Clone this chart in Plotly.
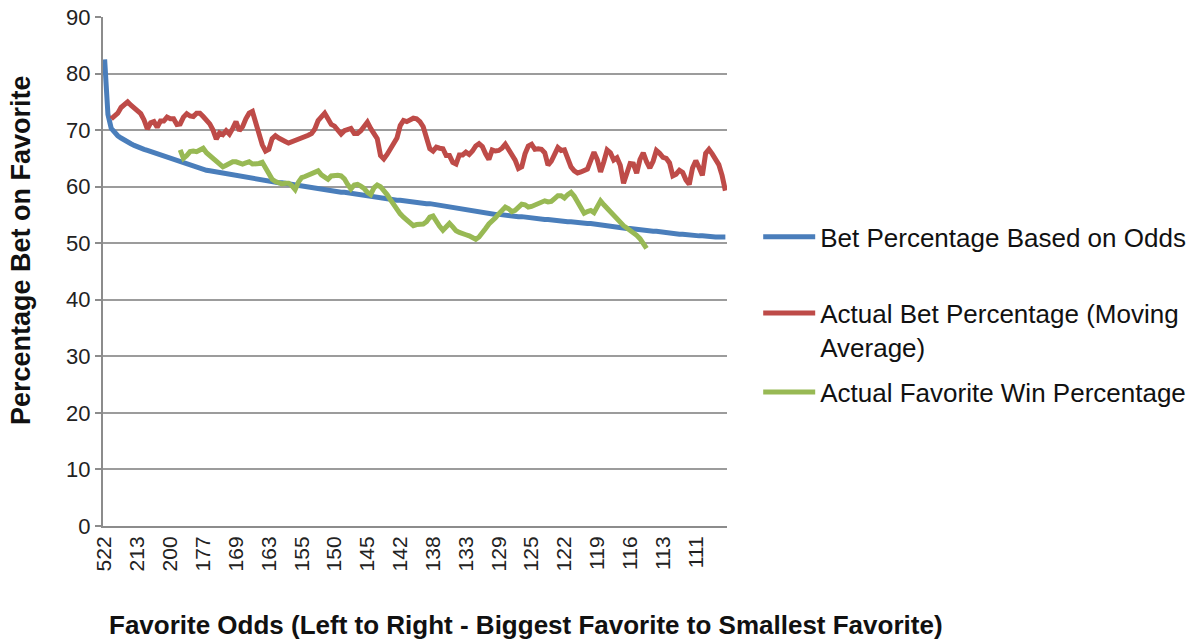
import plotly.graph_objects as go

N = 190
tick_labels = ["522", "213", "200", "177", "169", "163", "155", "150", "145", "142",
               "138", "133", "129", "125", "122", "119", "116", "113", "111"]
tick_step = 10
y_ticks = [0, 10, 20, 30, 40, 50, 60, 70, 80, 90]

blue_vals = [
    82.5, 72.8, 70.3, 69.5, 69.0, 68.6, 68.2, 67.9, 67.6, 67.3,
    67.0, 66.8, 66.6, 66.4, 66.2, 65.9, 65.8, 65.6, 65.5, 65.3,
    65.1, 64.9, 64.6, 64.4, 64.2, 64.0, 63.8, 63.5, 63.4, 63.2,
    63.1, 62.9, 62.8, 62.7, 62.6, 62.4, 62.3, 62.1, 62.0, 61.9,
    61.8, 61.7, 61.6, 61.5, 61.4, 61.4, 61.3, 61.2, 61.1, 61.0,
    60.9, 60.8, 60.8, 60.7, 60.7, 60.6, 60.5, 60.4, 60.3, 60.2,
    60.1, 60.0, 59.9, 59.8, 59.6, 59.5, 59.4, 59.3, 59.3, 59.2,
    59.2, 59.1, 59.0, 59.0, 58.9, 58.8, 58.7, 58.7, 58.6, 58.5,
    58.4, 58.3, 58.2, 58.1, 58.0, 57.9, 57.9, 57.8, 57.7, 57.6,
    57.6, 57.5, 57.4, 57.4, 57.3, 57.2, 57.2, 57.1, 57.0, 57.0,
    56.9, 56.8, 56.8, 56.7, 56.6, 56.5, 56.3, 56.2, 56.1, 55.9,
    55.8, 55.7, 55.6, 55.5, 55.5, 55.4, 55.3, 55.3, 55.2, 55.1,
    55.1, 55.0, 55.0, 54.9, 54.8, 54.8, 54.7, 54.7, 54.6, 54.5,
    54.5, 54.4, 54.4, 54.3, 54.2, 54.2, 54.1, 54.0, 54.0, 53.9,
    53.9, 53.8, 53.8, 53.7, 53.7, 53.6, 53.6, 53.5, 53.5, 53.4,
    53.3, 53.2, 53.1, 53.0, 52.9, 52.9, 52.8, 52.7, 52.7, 52.6,
    52.6, 52.5, 52.4, 52.4, 52.3, 52.2, 52.2, 52.1, 52.1, 52.0,
    52.0, 51.9, 51.8, 51.8, 51.7, 51.6, 51.6, 51.5, 51.5, 51.4,
    51.4, 51.3, 51.3, 51.2, 51.2, 51.2, 51.1, 51.1, 51.1, 51.1,
]

red_vals = [
    None, None, 72.0, 72.4, 73.0, 74.0, 74.6, 75.0, 74.4, 73.9,
    73.5, 72.9, 71.8, 70.2, 71.3, 71.5, 70.5, 71.6, 71.6, 72.3,
    72.0, 72.0, 71.0, 71.1, 72.3, 72.9, 72.5, 72.4, 73.0, 73.0,
    72.4, 71.8, 71.1, 70.0, 68.4, 69.5, 69.2, 69.9, 69.3, 70.3,
    71.5, 69.9, 70.6, 72.0, 73.0, 73.3, 71.2, 69.4, 67.4, 66.3,
    66.6, 68.5, 69.0, 68.6, 68.2, 68.0, 67.7, 67.9, 68.2, 68.3,
    68.5, 68.8, 69.1, 69.4, 70.2, 71.7, 72.4, 73.0, 72.0, 71.0,
    70.7, 69.8, 69.3, 69.9, 70.1, 70.3, 69.4, 69.4, 69.9, 70.7,
    71.4, 70.3, 69.5, 68.5, 65.5, 64.9, 65.7, 66.7, 67.6, 68.6,
    70.8, 71.7, 71.5, 71.9, 72.1, 72.0, 71.5, 70.6, 68.9, 66.7,
    66.3, 67.0, 66.8, 66.7, 65.5, 65.5, 64.3, 64.0, 65.6, 65.6,
    66.1, 65.7, 66.3, 67.2, 67.6, 67.1, 65.8, 64.8, 66.5, 66.3,
    66.4, 66.8, 67.5, 66.5, 65.5, 64.7, 63.2, 63.5, 65.8, 67.2,
    67.5, 66.6, 66.7, 66.6, 66.0, 63.8, 64.5, 65.7, 66.9, 66.4,
    66.5, 65.0, 63.5, 62.8, 62.4, 62.6, 62.9, 63.1, 64.6, 66.1,
    64.8, 62.6, 64.4, 66.5, 66.0, 64.7, 65.1, 63.8, 60.6, 62.1,
    64.1, 64.0, 62.4, 64.8, 66.0, 64.4, 63.3, 64.5, 66.4, 65.9,
    65.2, 65.0, 64.2, 61.9, 62.2, 62.9, 62.5, 61.2, 60.4, 63.3,
    64.6, 63.4, 62.0, 65.9, 66.6, 65.8, 64.8, 63.9, 62.0, 59.3,
]

green_vals = [None] * 23 + [
    66.5, 65.0, 65.5, 66.2, 66.3, 66.2, 66.5,
    66.8, 66.0, 65.5, 65.1, 64.6, 64.1, 63.5, 63.8, 64.1, 64.4,
    64.4, 64.2, 64.0, 64.2, 64.4, 64.0, 64.0, 64.1, 64.3, 63.2,
    62.1, 61.3, 60.9, 60.6, 60.5, 60.6, 60.6, 60.2, 59.5, 60.8,
    61.6, 61.8, 62.0, 62.2, 62.6, 62.8, 62.1, 61.6, 61.3, 61.9,
    62.0, 62.0, 61.9, 61.4, 60.4, 59.6, 60.3, 60.4, 60.1, 59.7,
    59.0, 58.6, 59.8, 60.3, 60.0, 59.4, 58.6, 57.7, 56.8, 55.9,
    55.2, 54.6, 54.0, 53.5, 53.1, 53.3, 53.3, 53.4, 53.8, 54.6,
    54.8, 53.7, 53.0, 52.3, 52.8, 53.5, 52.9, 52.2, 51.9, 51.6,
    51.5, 51.3, 51.0, 50.7, 51.1, 51.7, 52.6, 53.4, 53.9, 54.5,
    55.2, 55.8, 56.4, 56.1, 55.6, 55.8, 56.4, 56.9, 56.8, 56.4,
    56.5, 56.8, 57.0, 57.4, 57.5, 57.3, 57.4, 57.9, 58.4, 58.4,
    58.0, 58.6, 59.0, 58.3, 57.3, 56.2, 55.3, 55.6, 55.8, 55.4,
    56.6, 57.5, 56.8, 56.2, 55.6, 55.0, 54.2, 53.5, 53.1, 52.7,
    52.3, 51.9, 51.4, 50.8, 50.0, 49.1,
]
green_vals = green_vals + [None] * (N - len(green_vals))

series_names = ["Bet Percentage Based on Odds",
                "Actual Bet Percentage (Moving<br>Average)",
                "Actual Favorite Win Percentage"]
series_colors = ["#4A7EBB", "#BE4B48", "#98B954"]

x_idx = list(range(N))
FONT = "Liberation Sans, Arial, sans-serif"

fig = go.Figure()
for vals, name, color, leg in zip([blue_vals, red_vals, green_vals], series_names,
                                  series_colors, ["legend", "legend2", "legend3"]):
    fig.add_trace(go.Scatter(x=x_idx, y=vals, mode="lines", name=name,
                             line=dict(color=color, width=5), legend=leg,
                             showlegend=True, connectgaps=False))

legend_common = dict(font=dict(family=FONT, size=26, color="#111111"),
                     bgcolor="rgba(0,0,0,0)", xanchor="left", yanchor="middle",
                     valign="top", itemwidth=52)
fig.update_layout(
    width=1196, height=640,
    margin=dict(l=103, r=469, t=17, b=114, autoexpand=False),
    paper_bgcolor="white", plot_bgcolor="white",
    showlegend=True,
    font=dict(family=FONT, color="#222222"),
    legend=dict(x=1.05, y=0.568, **legend_common),
    legend2=dict(x=1.05, y=0.385, **legend_common),
    legend3=dict(x=1.05, y=0.263, **legend_common),
    xaxis=dict(range=[-0.5, N - 0.5], automargin=False,
               tickmode="array",
               tickvals=[i * tick_step for i in range(len(tick_labels))],
               ticktext=tick_labels,
               tickangle=-90, tickfont=dict(size=21, color="#222222"),
               showgrid=False, showline=True, linecolor="#8c8c8c", linewidth=2,
               ticks="", zeroline=False),
    yaxis=dict(range=[0, 90], automargin=False,
               tickmode="array", tickvals=y_ticks,
               ticklabeloverflow="allow",
               tickfont=dict(size=22, color="#222222"),
               showgrid=True, gridcolor="#9c9c9c", gridwidth=2,
               showline=True, linecolor="#8c8c8c", linewidth=2,
               ticks="outside", ticklen=6, tickcolor="#8c8c8c", tickwidth=2,
               zeroline=False),
    annotations=[
        dict(text="<b>Favorite Odds (Left to Right - Biggest Favorite to Smallest Favorite)</b>",
             xref="paper", yref="paper", x=(526 - 103) / 624, y=-(625 - 526) / 509,
             xanchor="center", yanchor="middle", showarrow=False,
             font=dict(family=FONT, size=26, color="#111111")),
        dict(text="<b>Percentage Bet on Favorite</b>", textangle=-90,
             xref="paper", yref="paper", x=-(103 - 21) / 624, y=(526 - 250) / 509,
             xanchor="center", yanchor="middle", showarrow=False,
             font=dict(family=FONT, size=27, color="#111111")),
    ],
)

fig.write_html("out.html",
               config={"displayModeBar": False},
               post_script="document.body.style.margin='0';document.body.style.overflow='hidden';")
